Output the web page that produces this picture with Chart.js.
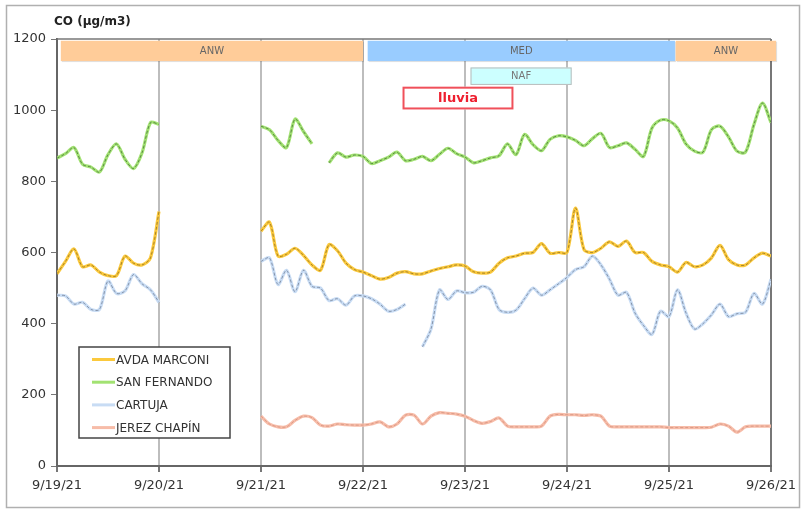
<!DOCTYPE html>
<html>
<head>
<meta charset="utf-8">
<script src="https://cdn.jsdelivr.net/npm/chart.js@4.4.0/dist/chart.umd.min.js"></script>
<style>
  html, body { margin: 0; padding: 0; background: #fff; }
</style>
</head>
<body>
<canvas id="chartId" width="804" height="511"></canvas>
<script>
// x axis: hours since 9/19/21 00:00, every 2 hours
const dayLabels = ['9/19/21', '9/20/21', '9/21/21', '9/22/21', '9/23/21', '9/24/21', '9/25/21', '9/26/21'];
const hours = Array.from({ length: 85 }, (_, i) => i * 2);
const N = null;

const avdaMarconi = [
    540, 575, 610, 560, 565, 545, 535, 535, 590, 570, 565, 585, 715,
    N, N, N, N, N, N, N, N, N, N, N,
    660, 685, 590, 595, 612, 592, 565, 550, 622, 605, 570, 552, 545, 535, 525, 530, 542, 546,
    540, 540, 548, 555, 560, 565, 562, 546, 542, 545, 570, 585, 590, 598, 600, 625, 598, 600,
    600, 725, 608, 600, 612, 630, 617, 632, 600, 600, 575, 565, 560, 545, 572, 560, 565, 585, 620, 580, 565, 565, 585, 598, 590
];
const sanFernando = [
    865, 878, 895, 848, 840, 826, 875, 905, 862, 836, 880, 965, 960,
    N, N, N, N, N, N, N, N, N, N, N,
    955, 945, 915, 895, 975, 940, 905, N, 852, 880, 868, 874, 870, 850, 858, 868, 882, 858,
    862, 870, 858, 876, 893, 878, 868, 852, 858, 866, 872, 905, 875, 932, 903, 886, 918, 928,
    925, 915, 900, 920, 935, 895, 900, 908, 890, 870, 950, 972, 970, 950, 905, 885, 882, 945, 955, 925, 885, 882, 960, 1020, 965
];
const cartuja = [
    480, 478, 455, 460, 440, 440, 520, 485, 492, 538, 512, 495, 460,
    N, N, N, N, N, N, N, N, N, N, N,
    575, 585, 510, 550, 490, 550, 505, 500, 465, 470, 452, 478, 478, 470, 455, 435, 440, 455,
    N, 335, 385, 495, 468, 492, 487, 488, 505, 495, 440, 432, 438, 470, 500, 480, 495, 512,
    530, 552, 560, 590, 565, 525, 480, 488, 430, 395, 370, 435, 420, 495, 430, 385, 400, 425, 455, 420, 428, 432, 485, 455, 525
];
const jerezChapin = [
    N, N, N, N, N, N, N, N, N, N, N, N, N,
    N, N, N, N, N, N, N, N, N, N, N,
    140, 118, 110, 110, 128, 140, 136, 115, 112, 118, 116, 115, 115, 118, 124, 110, 118, 143,
    143, 118, 140, 150, 148, 146, 140, 128, 120, 125, 135, 112, 110, 110, 110, 112, 140, 145,
    144, 144, 142, 144, 140, 112, 110, 110, 110, 110, 110, 110, 108, 108, 108, 108, 108, 109, 118, 112, 95, 110, 112, 112, 112
];

const seriesNames = ['AVDA MARCONI', 'SAN FERNANDO', 'CARTUJA', 'JEREZ CHAPÍN'];
const seriesValues = [avdaMarconi, sanFernando, cartuja, jerezChapin];
const seriesColors = ['#FBC93D', '#A2E272', '#C8DCF4', '#F7BCA8'];
const textureColors = ['rgba(130,100,30,0.7)', 'rgba(60,100,50,0.7)', 'rgba(90,100,120,0.6)', 'rgba(200,130,110,0.6)'];

// air mass episodes (hours, label) and rain box
const episodeLabels = ['ANW', 'MED', 'ANW'];
const episodeFrom = [0.9, 73.1, 145.6];
const episodeTo = [72, 145.4, 169.2];
const episodeColors = ['#FFCC99', '#99CCFF', '#FFCC99'];
const nafFrom = 97.3, nafTo = 121.1;
const rainFrom = 81.3, rainTo = 107.4;

const FONT = 'DejaVu Sans';

function toPoints(values) {
    return hours.map((h, i) => ({ x: h, y: values[i] }));
}

// textures first so they are painted last (on top)
const textures = [];
const mains = [];
seriesValues.forEach((values, i) => {
    mains.push({
        label: seriesNames[i],
        data: toPoints(values),
        borderColor: seriesColors[i],
        borderWidth: 3.2,
        pointRadius: 0,
        tension: 0.3,
        spanGaps: false,
        isMain: true,
        order: 5
    });
    // thin darker texture over each line, like the excel line style
    textures.push({
        label: seriesNames[i] + ' texture',
        data: toPoints(values),
        borderColor: textureColors[i],
        borderWidth: 1,
        borderDash: [3, 2],
        pointRadius: 0,
        tension: 0.3,
        spanGaps: false,
        isMain: false,
        order: 1
    });
});
const datasets = textures.concat(mains);

const decor = {
    id: 'decor',
    beforeDraw(chart) {
        const ctx = chart.ctx;
        ctx.save();
        ctx.fillStyle = '#fff';
        ctx.fillRect(0, 0, chart.width, chart.height);
        ctx.strokeStyle = '#b0b0b0';
        ctx.lineWidth = 1.5;
        ctx.strokeRect(6.5, 5.5, 793, 502);
        ctx.fillStyle = '#222';
        ctx.font = 'bold 12px ' + FONT;
        ctx.textBaseline = 'middle';
        ctx.fillText('CO (\u00b5g/m3)', 54, 22);
        ctx.restore();
    },
    beforeDatasetsDraw(chart) {
        const ctx = chart.ctx;
        const x = chart.scales.x, y = chart.scales.y;
        const area = chart.chartArea;
        ctx.save();
        // top border of plot area
        ctx.strokeStyle = '#777';
        ctx.lineWidth = 1.5;
        ctx.beginPath();
        ctx.moveTo(area.left, area.top);
        ctx.lineTo(area.right, area.top);
        ctx.stroke();

        ctx.font = '10px ' + FONT;
        ctx.textAlign = 'center';
        ctx.textBaseline = 'middle';
        episodeLabels.forEach((lab, i) => {
            const x0 = x.getPixelForValue(episodeFrom[i]);
            const x1 = x.getPixelForValue(episodeTo[i]);
            const y0 = y.getPixelForValue(1195);
            const y1 = y.getPixelForValue(1138);
            ctx.fillStyle = 'rgba(0,0,0,0.12)';
            ctx.fillRect(x0 + 1, y0 + 1, x1 - x0, y1 - y0);
            ctx.fillStyle = episodeColors[i];
            ctx.fillRect(x0, y0, x1 - x0, y1 - y0);
            ctx.fillStyle = '#666';
            ctx.fillText(lab, (x0 + x1) / 2, (y0 + y1) / 2);
        });

        // NAF box
        let x0 = x.getPixelForValue(nafFrom), x1 = x.getPixelForValue(nafTo);
        let y0 = y.getPixelForValue(1120), y1 = y.getPixelForValue(1071);
        ctx.fillStyle = '#CCFFFF';
        ctx.fillRect(x0, y0, x1 - x0, y1 - y0);
        ctx.strokeStyle = '#bbb';
        ctx.lineWidth = 1;
        ctx.strokeRect(x0 + 0.5, y0 + 0.5, x1 - x0 - 1, y1 - y0 - 1);
        ctx.fillStyle = '#777';
        ctx.fillText('NAF', (x0 + x1) / 2, (y0 + y1) / 2);

        // rain box
        x0 = x.getPixelForValue(rainFrom); x1 = x.getPixelForValue(rainTo);
        y0 = y.getPixelForValue(1066); y1 = y.getPixelForValue(1002);
        ctx.fillStyle = '#fff';
        ctx.fillRect(x0, y0, x1 - x0, y1 - y0);
        ctx.strokeStyle = '#F0505A';
        ctx.lineWidth = 2;
        ctx.strokeRect(x0 + 1, y0 + 1, x1 - x0 - 2, y1 - y0 - 2);
        ctx.fillStyle = '#EE2030';
        ctx.font = 'bold 13px ' + FONT;
        ctx.fillText('lluvia', (x0 + x1) / 2, (y0 + y1) / 2 + 1);
        ctx.restore();
    },
    afterDraw(chart) {
        // legend box inside the plot
        const ctx = chart.ctx;
        ctx.save();
        ctx.fillStyle = '#fff';
        ctx.fillRect(79, 347, 151, 91);
        ctx.strokeStyle = '#444';
        ctx.lineWidth = 1.5;
        ctx.strokeRect(79, 347, 151, 91);
        ctx.font = '12px ' + FONT;
        ctx.textBaseline = 'middle';
        ctx.textAlign = 'left';
        chart.data.datasets.filter(d => d.isMain).forEach((d, i) => {
            const yy = 359.5 + i * 22.7;
            ctx.strokeStyle = d.borderColor;
            ctx.lineWidth = 3;
            ctx.beginPath();
            ctx.moveTo(92, yy);
            ctx.lineTo(115, yy);
            ctx.stroke();
            ctx.fillStyle = '#333';
            ctx.fillText(d.label, 116, yy + 1);
        });
        ctx.restore();
    }
};

const chrt = document.getElementById('chartId').getContext('2d');
const chartId = new Chart(chrt, {
    type: 'line',
    data: { datasets: datasets },
    options: {
        responsive: false,
        animation: false,
        devicePixelRatio: 1,
        layout: { padding: { left: 0, top: 39, right: 33, bottom: 0 } },
        plugins: {
            legend: { display: false },
            tooltip: { enabled: false }
        },
        scales: {
            x: {
                type: 'linear',
                min: 0,
                max: 168,
                afterFit(scale) { scale.height = 45; },
                ticks: {
                    stepSize: 24,
                    maxRotation: 0,
                    autoSkip: false,
                    padding: 6,
                    color: '#333',
                    font: { family: FONT, size: 13 },
                    callback: v => dayLabels[v / 24]
                },
                grid: {
                    color: c => (c.tick && c.tick.value === 168) ? '#777' : '#bdbdbd',
                    lineWidth: 2,
                    tickLength: 6,
                    tickColor: '#777'
                },
                border: { display: true, color: '#666', width: 2 }
            },
            y: {
                min: 0,
                max: 1200,
                afterFit(scale) { scale.width = 57; },
                ticks: {
                    stepSize: 200,
                    padding: 5,
                    color: '#333',
                    font: { family: FONT, size: 13 },
                    callback: v => String(v)
                },
                grid: {
                    drawOnChartArea: false,
                    tickLength: 6,
                    tickColor: '#777'
                },
                border: { display: true, color: '#666', width: 2 }
            }
        }
    },
    plugins: [decor]
});
</script>
</body>
</html>
